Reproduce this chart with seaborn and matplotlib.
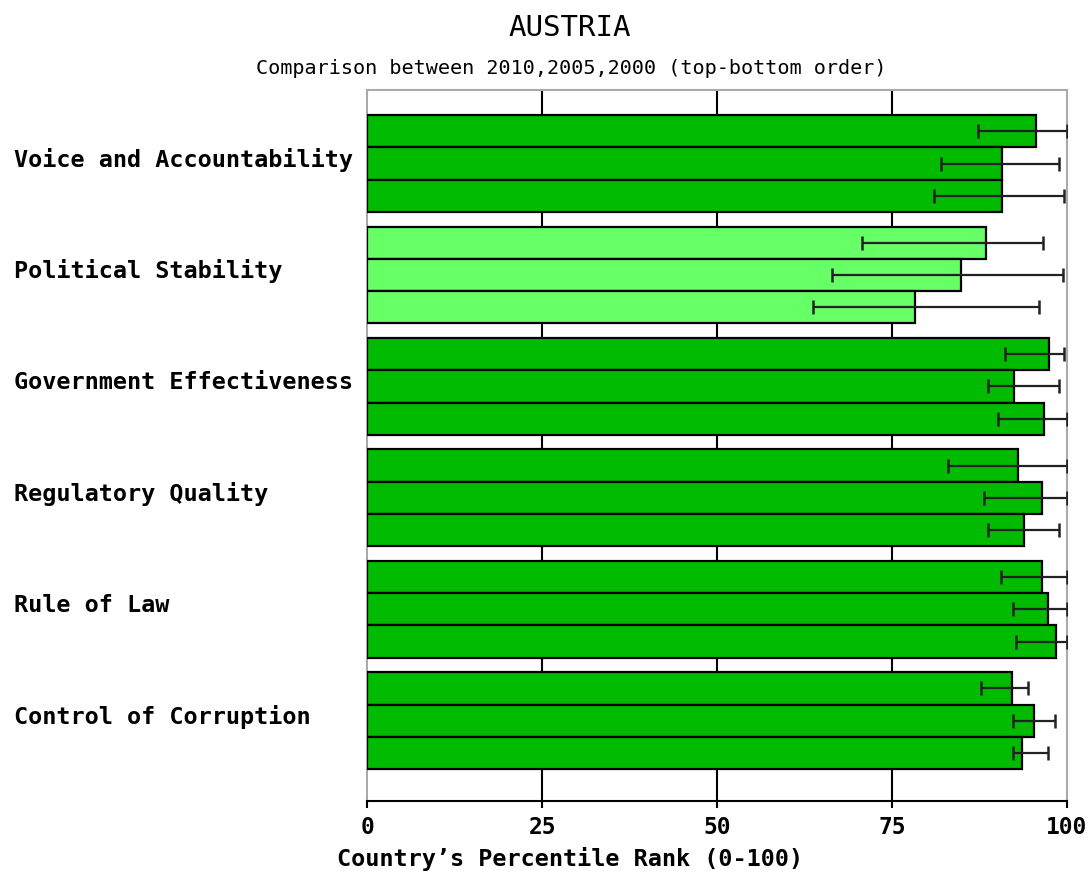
import matplotlib
matplotlib.use("Agg")
import matplotlib.pyplot as plt
import matplotlib.transforms as mtrans
import seaborn as sns
import pandas as pd
import numpy as np

categories = ["Voice and Accountability", "Political Stability", "Government Effectiveness",
              "Regulatory Quality", "Rule of Law", "Control of Corruption"]
years = ["2010", "2005", "2000"]
values_2010 = [95.6, 88.4, 97.4, 93.0, 96.4, 92.1]
values_2005 = [90.7, 84.9, 92.4, 96.4, 97.3, 95.3]
values_2000 = [90.7, 78.3, 96.7, 93.9, 98.4, 93.6]
low_2010 = [87.3, 70.7, 91.1, 83.0, 90.6, 87.7]
high_2010 = [100.0, 96.6, 99.6, 100.0, 100.0, 94.4]
low_2005 = [82.0, 66.4, 88.7, 88.1, 92.3, 92.3]
high_2005 = [98.9, 99.4, 98.9, 100.0, 100.0, 98.3]
low_2000 = [81.0, 63.7, 90.1, 88.7, 92.7, 92.3]
high_2000 = [99.6, 96.0, 100.0, 98.9, 100.0, 97.3]
x_ticks = [0, 25, 50, 75, 100]
highlight = "Political Stability"

dark_green = "#00bb00"
light_green = "#66ff66"

rows = []
for yr, vals, lo, hi in [("2010", values_2010, low_2010, high_2010),
                         ("2005", values_2005, low_2005, high_2005),
                         ("2000", values_2000, low_2000, high_2000)]:
    for c, v, l, h in zip(categories, vals, lo, hi):
        rows.append({"category": c, "year": yr, "value": v, "low": l, "high": h})
df = pd.DataFrame(rows)

sns.set_style("white")
plt.rcParams["text.color"] = "black"
plt.rcParams["axes.labelcolor"] = "black"
plt.rcParams["xtick.color"] = "black"
plt.rcParams["ytick.color"] = "black"
mono = ["DejaVu Sans Mono"]

fig = plt.figure(figsize=(10.88, 8.71), dpi=100)
ax = fig.add_axes([367/1088, 1 - 801/871, (1067-367)/1088, (801-90)/871])

sns.barplot(data=df, y="category", x="value", hue="year", order=categories,
            hue_order=years, palette=[dark_green]*3, saturation=1, width=0.87,
            edgecolor="black", linewidth=1.6, errorbar=None, legend=False,
            ax=ax, zorder=3)

for cont, yr in zip(ax.containers, years):
    sub = df[df["year"] == yr].set_index("category").loc[categories]
    for patch, (c, r) in zip(cont.patches, sub.iterrows()):
        if c == highlight:
            patch.set_facecolor(light_green)
        yc = patch.get_y() + patch.get_height() / 2
        ax.errorbar([r["value"]], [yc],
                    xerr=[[r["value"] - r["low"]], [r["high"] - r["value"]]],
                    fmt="none", ecolor="#222222", elinewidth=1.6, capsize=5,
                    capthick=1.8, zorder=4)

ax.set_xlim(0, 100)
ax.set_ylim(5.72, -0.66)
for t in x_ticks[1:-1]:
    ax.axvline(t, color="black", lw=1.5, zorder=1)

for s in ["top", "left", "right"]:
    ax.spines[s].set_color("#aaaaaa")
    ax.spines[s].set_linewidth(1.5)
ax.spines["bottom"].set_color("black")
ax.spines["bottom"].set_linewidth(1.5)

ax.set_xticks(x_ticks)
ax.set_xticklabels([str(t) for t in x_ticks], fontfamily=mono, fontweight="bold", fontsize=16.5)
ax.tick_params(axis="x", direction="out", length=5, width=1.5, color="black", pad=6, bottom=True)

# category labels, left aligned at the figure edge
ax.set_yticks(range(len(categories)))
ax.set_yticklabels([])
ax.tick_params(axis="y", length=0)
blend = mtrans.blended_transform_factory(fig.transFigure, ax.transData)
label_tr = mtrans.offset_copy(blend, fig=fig, x=0, y=6, units="dots")
for i, c in enumerate(categories):
    ax.text(14/1088, i, c, transform=label_tr, ha="left", va="center_baseline",
            fontfamily=mono, fontweight="bold", fontsize=16.9, clip_on=False)

ax.set_ylabel("")
ax.set_xlabel("Country\u2019s Percentile Rank (0-100)", fontfamily=mono, fontweight="bold",
              fontsize=16.9)
ax.xaxis.set_label_coords((337 - 367) / 700, -0.065)
ax.xaxis.label.set_horizontalalignment("left")

fig.text(570/1088, 1 - 28/871, "AUSTRIA", ha="center", va="center", fontfamily=mono, fontsize=21)
fig.text(571/1088, 1 - 68/871, "Comparison between 2010,2005,2000 (top-bottom order)",
         ha="center", va="center", fontfamily=mono, fontsize=14.5)

fig.savefig("out.png", dpi=100)
